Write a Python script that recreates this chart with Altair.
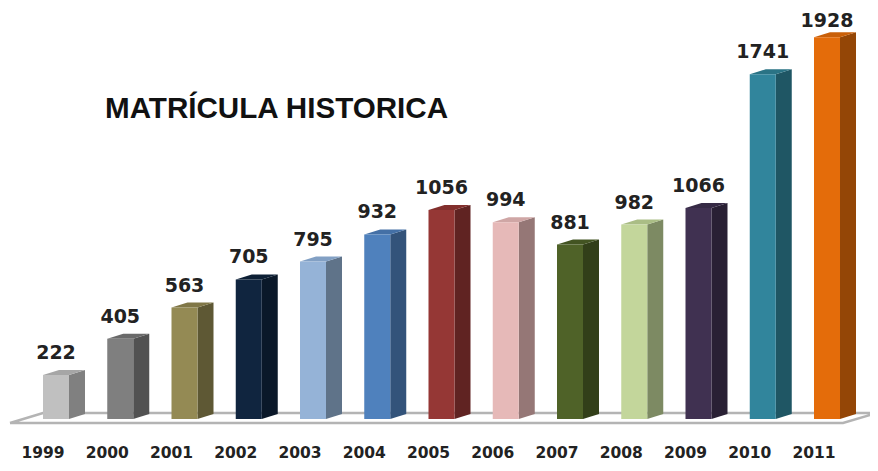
import altair as alt
import pandas as pd

years = [1999, 2000, 2001, 2002, 2003, 2004, 2005, 2006, 2007, 2008, 2009, 2010, 2011]
values = [222, 405, 563, 705, 795, 932, 1056, 994, 881, 982, 1066, 1741, 1928]
front_colors = ["#c0c0c0", "#7f7f7f", "#948a54", "#10253f", "#95b3d7", "#4f81bd", "#953735",
                "#e6b9b8", "#4f6228", "#c3d69b", "#403151", "#31859c", "#e46c0a"]
side_colors = ["#808080", "#525252", "#5e5834", "#0a1829", "#5f7389", "#33537a", "#602322",
               "#957776", "#323f19", "#7d8a63", "#292034", "#1f5664", "#944606"]
top_colors = ["#a6a6a6", "#6a6a6a", "#807747", "#0d1f35", "#82a0c4", "#4470a6", "#822f2d",
              "#cfa6a5", "#435422", "#aabd85", "#362a45", "#2a7385", "#c95f08"]

PX_X = 64.25          # pixels per year step
PX_Y = 0.198          # pixels per unit
W, H = 862, 455
x0 = 1999 - (56 - 8) / PX_X
y0 = -(8 + H - 419) / PX_Y
x_dom = [x0, x0 + W / PX_X]
y_dom = [y0, y0 + H / PX_Y]
half = 13 / PX_X
dx = 16 / PX_X
dy = 5 / PX_Y

xs = alt.Scale(domain=x_dom, nice=False, zero=False)
ys = alt.Scale(domain=y_dom, nice=False, zero=False)
X = alt.X("x:Q", scale=xs, axis=None)
Y = alt.Y("y:Q", scale=ys, axis=None, stack=None)
Y2 = alt.Y2("y2:Q")

front, side, top = [], [], []
for yr, v in zip(years, values):
    l, r = yr - half, yr + half
    front.append(dict(year=yr, x=l, x2=r, y=v, y2=0))
    side += [dict(year=yr, x=r, y=v, y2=0), dict(year=yr, x=r + dx, y=v + dy, y2=dy)]
    top += [dict(year=yr, x=l, y=v, y2=v), dict(year=yr, x=l + dx, y=v + dy, y2=v),
            dict(year=yr, x=r, y=v + dy, y2=v), dict(year=yr, x=r + dx, y=v + dy, y2=v + dy)]

def col(rng):
    return alt.Color("year:O", scale=alt.Scale(domain=years, range=rng), legend=None)

fl, fr = 1999 - 46 / PX_X, 1999 + (843 - 56) / PX_X
bl, br = 1999 - 13 / PX_X, 1999 + (877 - 56) / PX_X
fy, by = -4 / PX_Y, 6 / PX_Y
floor_outline = pd.DataFrame(dict(x=[fl, fr, br, bl, fl], y=[fy, fy, by, by, fy], o=[0, 1, 2, 3, 4]))

outline = alt.Chart(floor_outline).mark_line(color="#b4b4b4", strokeWidth=2.5).encode(
    x=X, y=Y, order="o:Q")
side_l = alt.Chart(pd.DataFrame(side)).mark_area(interpolate="linear", opacity=1).encode(
    x=X, y=Y, y2=Y2, color=col(side_colors), detail="year:O")
top_l = alt.Chart(pd.DataFrame(top)).mark_area(interpolate="linear", opacity=1).encode(
    x=X, y=Y, y2=Y2, color=col(top_colors), detail="year:O")
front_l = alt.Chart(pd.DataFrame(front)).mark_rect().encode(
    x=X, x2=alt.X2("x2:Q"), y=Y, y2=Y2, color=col(front_colors))

lab = pd.DataFrame(dict(x=years, y=values, t=[str(v) for v in values], yr=[str(y) for y in years]))
val_font = dict(font="DejaVu Sans", fontSize=19, fontWeight="bold", color="#222222", baseline="alphabetic")
val_l = alt.Chart(lab[lab.x < 2011]).mark_text(dy=-16, **val_font).encode(x=X, y=Y, text="t:N")
val_last = alt.Chart(lab[lab.x == 2011]).mark_text(dy=-10, **val_font).encode(x=X, y=Y, text="t:N")
year_l = alt.Chart(lab.assign(y=y0)).mark_text(
    font="DejaVu Sans", fontSize=15.5, fontWeight="bold", color="#222222",
    baseline="alphabetic", dx=-13, dy=-5).encode(x=X, y=Y, text="yr:N")
title_l = alt.Chart(pd.DataFrame(dict(t=["MATRÍCULA HISTORICA"]))).mark_text(
    font="Liberation Sans", fontSize=29.6, fontWeight="bold", color="#111111",
    align="left", baseline="alphabetic").encode(x=alt.value(97), y=alt.value(110), text="t:N")

chart = alt.layer(outline, side_l, top_l, front_l, val_l, val_last, year_l, title_l).resolve_scale(
    color="independent"
).properties(
    width=W, height=H, padding=0, background="white",
    autosize=alt.AutoSizeParams(type="none", contains="padding")
).configure_view(stroke=None)
chart.save("out.html", embed_options={"renderer": "svg", "actions": False})
